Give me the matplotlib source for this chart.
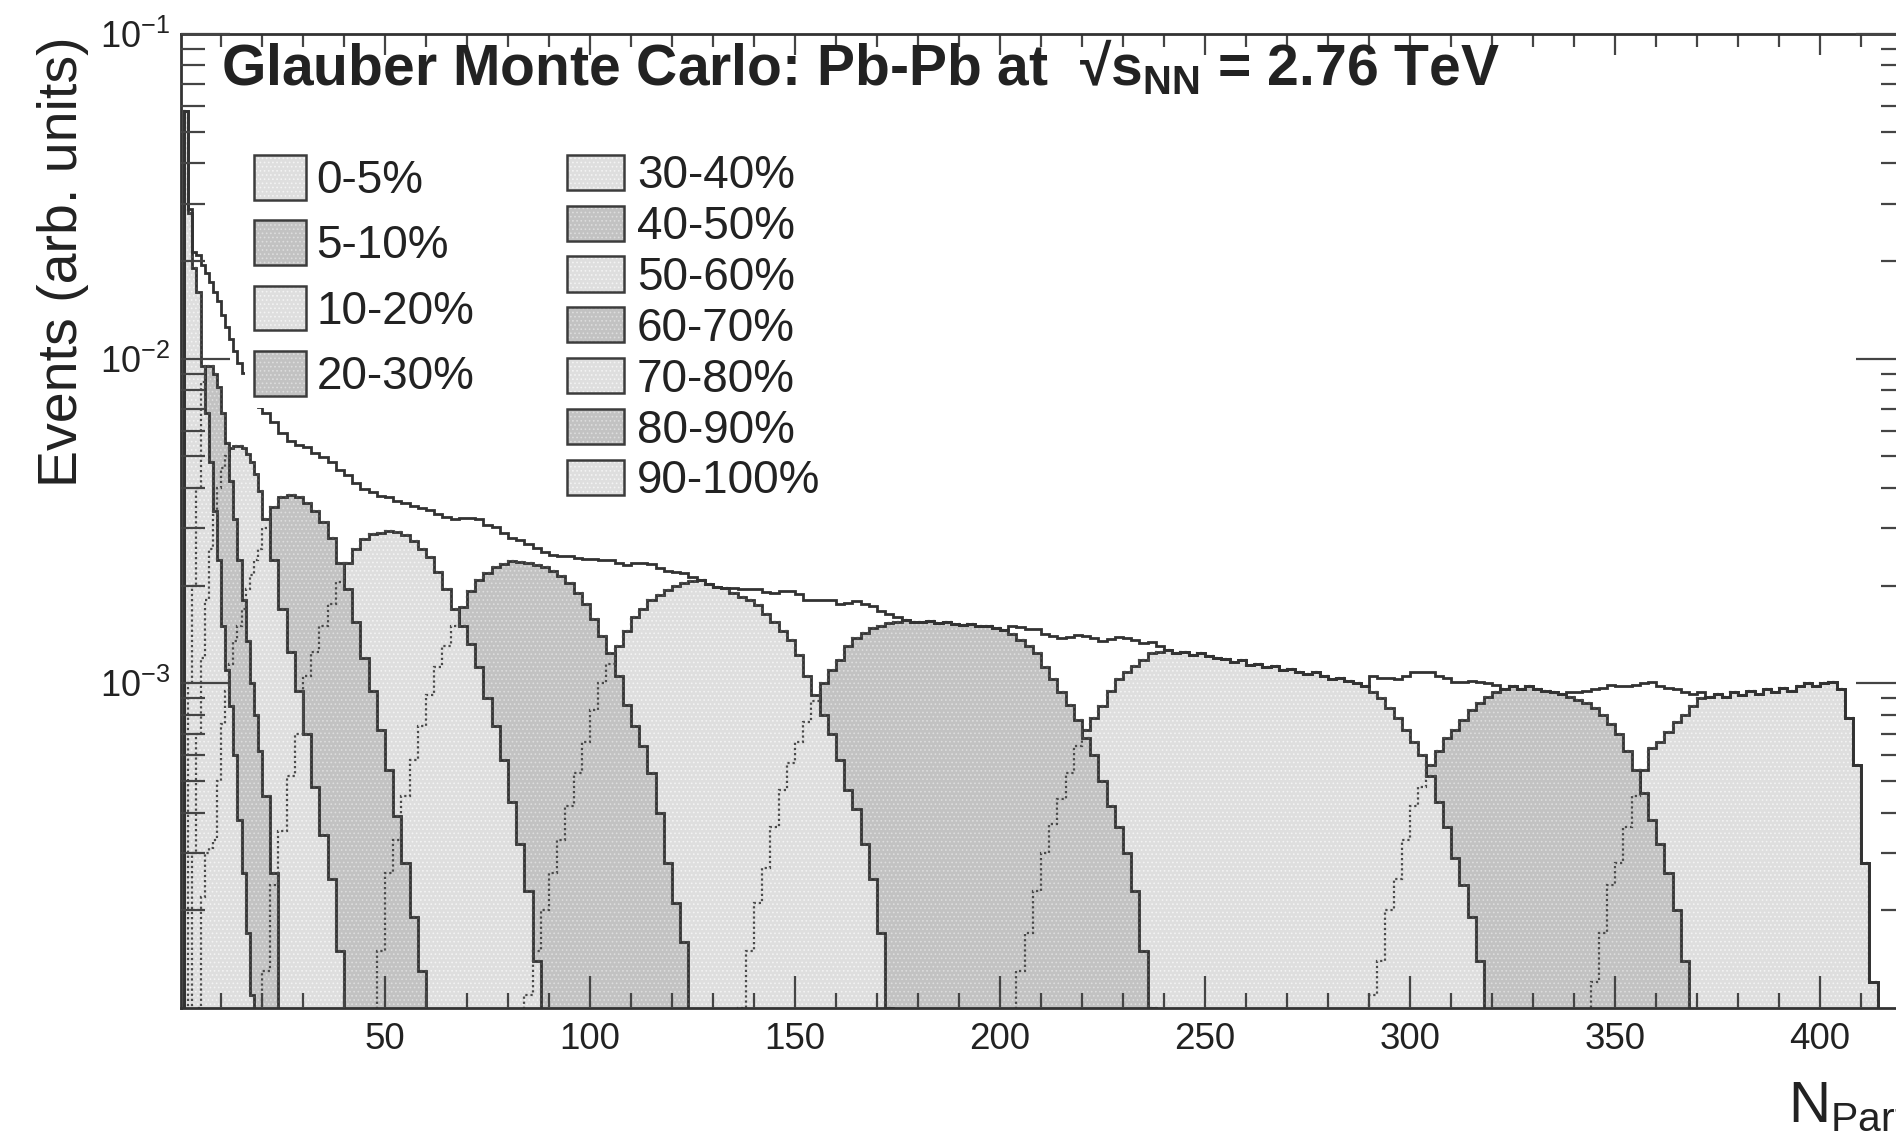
import numpy as np
import matplotlib
matplotlib.use("Agg")
import matplotlib.pyplot as plt
from matplotlib.patches import Patch
from matplotlib.legend_handler import HandlerTuple
from matplotlib.ticker import MultipleLocator, LogLocator, NullFormatter

plt.rcParams['font.family'] = ['Liberation Sans', 'DejaVu Sans']
plt.rcParams['mathtext.fontset'] = 'custom'
plt.rcParams['mathtext.rm'] = 'Liberation Sans'
plt.rcParams['mathtext.bf'] = 'Liberation Sans:bold'
plt.rcParams['mathtext.it'] = 'Liberation Sans:italic'
plt.rcParams['axes.unicode_minus'] = False
plt.rcParams['hatch.linewidth'] = 0.7

# Npart bins: width 1 below 20, width 2 above
npart_edges = np.concatenate([np.arange(1, 20), np.arange(20, 422, 2)])

cent_labels = ['0-5%', '5-10%', '10-20%', '20-30%', '30-40%', '40-50%',
               '50-60%', '60-70%', '70-80%', '80-90%', '90-100%']

# first bin edge of each class histogram
cls_start = [338, 290, 202, 134, 82, 46, 20, 4, 3, 2, 1]

cls_0_5 = [0.3e-4, 0.5e-4, 0.8e-4, 1.2e-4, 1.7e-4, 2.4e-4, 2.8e-4, 3.6e-4, 4.5e-4, 5.4e-4,
           6.3e-4, 6.6e-4, 7.1e-4, 7.6e-4, 8.0e-4, 8.5e-4, 9.0e-4, 9.1e-4, 9.3e-4, 9.1e-4,
           9.4e-4, 9.2e-4, 9.5e-4, 9.3e-4, 9.6e-4, 9.4e-4, 9.7e-4, 9.5e-4, 9.8e-4, 1.0e-3,
           9.8e-4, 1.0e-3, 1.01e-3, 9.6e-4, 7.8e-4, 5.6e-4, 2.8e-4, 1.2e-4, 0.5e-4]
cls_5_10 = [1.1e-4, 1.4e-4, 2.0e-4, 2.5e-4, 3.3e-4, 4.2e-4, 4.8e-4, 5.6e-4, 6.2e-4, 6.8e-4,
            7.2e-4, 7.7e-4, 8.3e-4, 8.7e-4, 9.1e-4, 9.4e-4, 9.6e-4, 9.8e-4, 9.6e-4, 9.8e-4,
            9.6e-4, 9.5e-4, 9.4e-4, 9.3e-4, 9.1e-4, 8.9e-4, 8.7e-4, 8.4e-4, 8.0e-4, 7.5e-4,
            7.0e-4, 6.2e-4, 5.4e-4, 4.6e-4, 3.8e-4, 3.2e-4, 2.6e-4, 2.0e-4, 1.4e-4, 0.8e-4,
            0.4e-4]
cls_10_20 = [0.8e-4, 1.3e-4, 1.7e-4, 2.3e-4, 3.0e-4, 3.7e-4, 4.4e-4, 5.3e-4, 6.4e-4, 7.2e-4,
             7.8e-4, 8.5e-4, 9.5e-4, 1.03e-3, 1.08e-3, 1.13e-3, 1.18e-3, 1.24e-3, 1.25e-3, 1.27e-3,
             1.24e-3, 1.25e-3, 1.22e-3, 1.24e-3, 1.21e-3, 1.2e-3, 1.19e-3, 1.16e-3, 1.18e-3, 1.14e-3,
             1.15e-3, 1.12e-3, 1.13e-3, 1.1e-3, 1.11e-3, 1.08e-3, 1.07e-3, 1.08e-3, 1.05e-3, 1.03e-3,
             1.04e-3, 1.02e-3, 1.0e-3, 9.8e-4, 9.4e-4, 9.0e-4, 8.4e-4, 7.8e-4, 7.2e-4, 6.6e-4,
             6.0e-4, 5.2e-4, 4.3e-4, 3.6e-4, 2.9e-4, 2.4e-4, 1.9e-4, 1.4e-4, 0.9e-4, 0.5e-4]
cls_20_30 = [0.6e-4, 1.0e-4, 1.5e-4, 2.1e-4, 2.7e-4, 3.6e-4, 4.7e-4, 5.7e-4, 6.6e-4, 7.6e-4,
             8.8e-4, 1.0e-3, 1.1e-3, 1.18e-3, 1.3e-3, 1.38e-3, 1.43e-3, 1.48e-3, 1.5e-3, 1.53e-3,
             1.55e-3, 1.57e-3, 1.55e-3, 1.54e-3, 1.56e-3, 1.53e-3, 1.54e-3, 1.52e-3, 1.51e-3, 1.52e-3,
             1.5e-3, 1.5e-3, 1.48e-3, 1.46e-3, 1.42e-3, 1.36e-3, 1.3e-3, 1.24e-3, 1.12e-3, 1.03e-3,
             9.4e-4, 8.6e-4, 7.7e-4, 6.8e-4, 6.0e-4, 5.0e-4, 4.2e-4, 3.6e-4, 3.0e-4, 2.3e-4,
             1.5e-4, 1.0e-4, 0.5e-4]
cls_30_40 = [0.9e-4, 1.1e-4, 1.5e-4, 2.0e-4, 2.6e-4, 3.3e-4, 4.2e-4, 5.3e-4, 6.6e-4, 8.3e-4,
             1.0e-3, 1.15e-3, 1.3e-3, 1.45e-3, 1.6e-3, 1.7e-3, 1.8e-3, 1.87e-3, 1.94e-3, 2.0e-3,
             2.03e-3, 2.06e-3, 2.08e-3, 2.02e-3, 1.98e-3, 1.96e-3, 1.9e-3, 1.85e-3, 1.8e-3, 1.74e-3,
             1.64e-3, 1.54e-3, 1.45e-3, 1.36e-3, 1.22e-3, 1.05e-3, 9.2e-4, 8.0e-4, 7.0e-4, 5.8e-4,
             4.7e-4, 4.1e-4, 3.2e-4, 2.5e-4, 1.7e-4, 1.0e-4, 0.5e-4]
cls_40_50 = [0.6e-4, 1.5e-4, 2.6e-4, 3.3e-4, 4.5e-4, 5.8e-4, 7.4e-4, 9.2e-4, 1.12e-3, 1.3e-3,
             1.5e-3, 1.72e-3, 1.92e-3, 2.08e-3, 2.18e-3, 2.28e-3, 2.33e-3, 2.38e-3, 2.36e-3, 2.35e-3,
             2.32e-3, 2.28e-3, 2.22e-3, 2.14e-3, 2.04e-3, 1.9e-3, 1.76e-3, 1.58e-3, 1.4e-3, 1.24e-3,
             1.05e-3, 8.6e-4, 7.4e-4, 6.4e-4, 5.3e-4, 4.0e-4, 2.8e-4, 2.1e-4, 1.6e-4, 0.6e-4]
cls_50_60 = [1.3e-4, 2.4e-4, 3.5e-4, 5.2e-4, 7.0e-4, 1.05e-3, 1.25e-3, 1.5e-3, 1.75e-3, 2.05e-3,
             2.35e-3, 2.6e-3, 2.78e-3, 2.88e-3, 2.9e-3, 2.95e-3, 2.92e-3, 2.87e-3, 2.75e-3, 2.6e-3,
             2.45e-3, 2.2e-3, 1.95e-3, 1.7e-3, 1.5e-3, 1.32e-3, 1.12e-3, 9.0e-4, 7.4e-4, 5.8e-4,
             4.3e-4, 3.2e-4, 2.3e-4, 1.4e-4, 0.6e-4]
cls_60_70 = [1.0e-4, 2.2e-4, 3.0e-4, 3.1e-4, 3.3e-4, 5.0e-4, 7.5e-4, 9.5e-4, 1.15e-3, 1.35e-3,
             1.5e-3, 1.7e-3, 1.95e-3, 2.15e-3, 2.4e-3, 2.6e-3,
             3.0e-3, 3.5e-3, 3.75e-3, 3.8e-3, 3.76e-3, 3.6e-3, 3.4e-3, 3.15e-3, 2.8e-3, 2.35e-3,
             1.95e-3, 1.55e-3, 1.2e-3, 9.5e-4, 7.2e-4, 5.4e-4, 3.9e-4, 2.8e-4, 1.9e-4, 1.3e-4,
             0.6e-4]
cls_70_80 = [3.0e-4, 7.0e-4, 1.2e-3, 1.8e-3, 2.6e-3, 3.3e-3, 4.0e-3, 4.6e-3, 5.0e-3, 5.3e-3,
             5.4e-3, 5.4e-3, 5.3e-3, 5.1e-3, 4.8e-3, 4.4e-3, 3.9e-3,
             3.2e-3, 2.4e-3, 1.7e-3, 1.25e-3, 9.5e-4, 7.0e-4, 4.8e-4, 3.4e-4, 2.5e-4, 1.5e-4,
             0.8e-4]
cls_80_90 = [1.0e-3, 2.0e-3, 4.0e-3, 8.5e-3, 9.5e-3, 9.5e-3, 9.0e-3, 8.2e-3, 6.8e-3, 5.5e-3,
             4.2e-3, 3.2e-3, 2.4e-3, 1.8e-3, 1.35e-3, 1.0e-3, 8.0e-4, 6.2e-4,
             4.5e-4, 2.6e-4, 0.9e-4]
cls_90_100 = [0.058, 0.028, 0.019, 0.016, 9.5e-3, 6.8e-3, 4.8e-3, 3.4e-3, 2.4e-3, 1.5e-3,
              1.1e-3, 8.5e-4, 6.0e-4, 3.8e-4, 2.6e-4, 1.7e-4, 1.1e-4, 0.7e-4]

cls_values = [cls_0_5, cls_5_10, cls_10_20, cls_20_30, cls_30_40, cls_40_50,
              cls_50_60, cls_60_70, cls_70_80, cls_80_90, cls_90_100]

light, light_dot = '#dedede', '#f3f3f3'
dark, dark_dot = '#c2c2c2', '#dddddd'
line_col = '#323232'

fig = plt.figure(figsize=(18.96, 11.38), dpi=100)
ax = fig.add_axes([181 / 1896, 130 / 1138, 1724 / 1896, 974 / 1138])
ax.set_yscale('log')

n_bins = len(npart_edges) - 1
total = np.zeros(n_bins)
pieces = []
for i, (start, vals) in enumerate(zip(cls_start, cls_values)):
    i0 = np.searchsorted(npart_edges, start)
    vals = np.array(vals)
    edges = npart_edges[i0:i0 + len(vals) + 1]
    total[i0:i0 + len(vals)] += vals
    pieces.append((vals, edges))
    fc, dc = (light, light_dot) if i % 2 == 0 else (dark, dark_dot)
    ax.stairs(vals, edges, baseline=1e-6, fill=True, facecolor=fc,
              edgecolor=dc, linewidth=0, hatch='....', zorder=1 + 0.05 * i)
    ax.stairs(vals, edges, baseline=1e-6, color=line_col, lw=2.0,
              zorder=1.02 + 0.05 * i)

# hidden edges show through the pattern as dotted lines
for vals, edges in pieces:
    ax.stairs(vals, edges, baseline=1e-6, color='#4a4a4a', lw=1.6,
              linestyle=(0, (1, 1.3)), zorder=1.8)

last = np.nonzero(total)[0][-1] + 1
ax.stairs(total[:last], npart_edges[:last + 1], baseline=1e-6, color=line_col,
          lw=2.0, zorder=1.9)

ax.set_xlim(0.24, 420.7)
ax.set_ylim(1e-4, 1e-1)
ax.set_axisbelow(False)

ax.xaxis.set_major_locator(MultipleLocator(50))
ax.xaxis.set_minor_locator(MultipleLocator(10))
ax.set_yticks([1e-3, 1e-2, 1e-1])
ax.yaxis.set_minor_locator(LogLocator(base=10, subs=np.arange(2, 10)))
ax.yaxis.set_minor_formatter(NullFormatter())

tick_col = '#444444'
ax.tick_params(axis='x', which='major', direction='in', length=23, width=1.6,
               colors=tick_col, labelcolor='#222222', labelsize=26.5, pad=10)
ax.tick_params(axis='x', which='minor', direction='in', length=11, width=1.6,
               colors=tick_col)
ax.tick_params(axis='y', which='major', direction='in', length=35, width=1.6,
               right=True, colors=tick_col, labelcolor='#222222', labelsize=26, pad=8)
ax.tick_params(axis='y', which='minor', direction='in', length=17, width=1.6,
               right=True, colors=tick_col)
for sp in ax.spines.values():
    sp.set_linewidth(2.0)
    sp.set_color('#333333')

top = ax.secondary_xaxis('top')
top.xaxis.set_major_locator(MultipleLocator(50))
top.xaxis.set_minor_locator(MultipleLocator(10))
top.xaxis.set_major_formatter(NullFormatter())
top.tick_params(which='major', direction='in', length=15, width=1.6, colors=tick_col)
top.tick_params(which='minor', direction='in', length=9, width=1.6, colors=tick_col)

handles = []
for i in range(len(cent_labels)):
    fc, dc = (light, light_dot) if i % 2 == 0 else (dark, dark_dot)
    handles.append((Patch(facecolor=fc, edgecolor=dc, linewidth=0, hatch='....'),
                    Patch(facecolor='none', edgecolor='#3c3c3c', linewidth=1.8)))
hmap = {tuple: HandlerTuple(ndivide=1, pad=0)}

leg1 = ax.legend(handles[:4], cent_labels[:4], handler_map=hmap, loc='upper left',
                 bbox_to_anchor=(245 / 1896, 1 - 146 / 1138),
                 bbox_transform=fig.transFigure, fontsize=33, fancybox=False,
                 facecolor='white', edgecolor='none', framealpha=1,
                 handlelength=1.12, handleheight=1.12, handletextpad=0.24,
                 labelspacing=0.38, borderpad=0.2, borderaxespad=0)
for t in leg1.get_texts():
    t.set_color('#222222')
leg1.set_zorder(5)
ax.add_artist(leg1)

leg2 = ax.legend(handles[4:], cent_labels[4:], handler_map=hmap, loc='upper left',
                 bbox_to_anchor=(558 / 1896, 1 - 145 / 1138),
                 bbox_transform=fig.transFigure, fontsize=33, fancybox=False,
                 facecolor='white', edgecolor='none', framealpha=1,
                 handlelength=1.25, handleheight=0.8, handletextpad=0.27,
                 labelspacing=0.15, borderpad=0.2, borderaxespad=0)
for t in leg2.get_texts():
    t.set_color('#222222')
leg2.set_zorder(5)

fig.text(221 / 1896, 1 - 85 / 1138,
         r'Glauber Monte Carlo: Pb-Pb at  √$\mathbf{s_{NN}}$ = 2.76 TeV',
         fontsize=41, fontweight='bold', color='#222222', ha='left', va='baseline')
fig.text(63 / 1896, 1 - 36 / 1138, 'Events (arb. units)', rotation=90,
         fontsize=40, color='#222222', ha='center', va='top')
fig.text(1788 / 1896, 1 - 1122 / 1138, r'N$_{\rm Part}$', fontsize=42,
         color='#222222', ha='left', va='baseline')

fig.savefig('out.png', dpi=100)
